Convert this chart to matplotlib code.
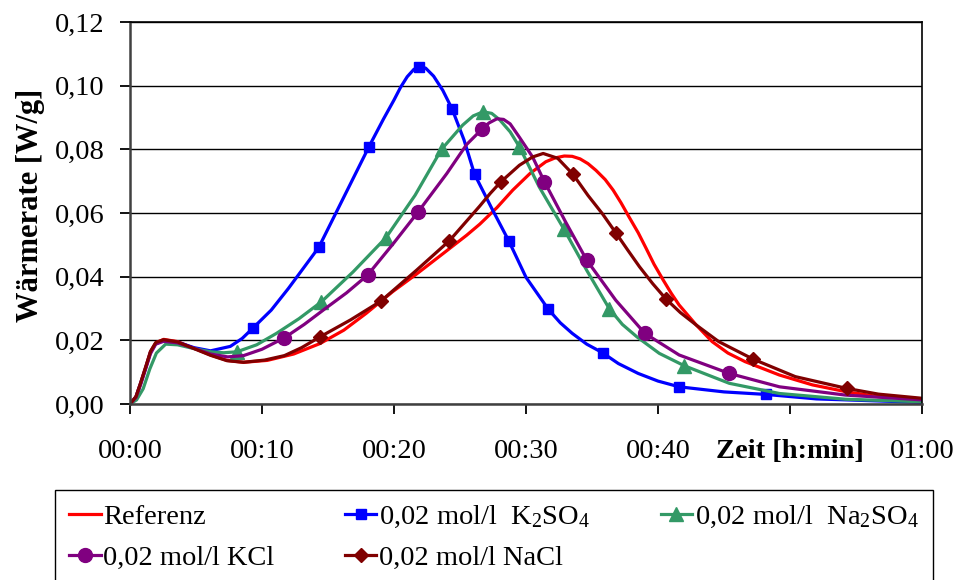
import numpy as np
import matplotlib.pyplot as plt

plt.rcParams['font.family'] = ['Liberation Serif', 'DejaVu Serif']
plt.rcParams['mathtext.fontset'] = 'custom'
plt.rcParams['mathtext.rm'] = 'Liberation Serif'

# time in minutes, heat rate in W/g
red_t = [0, 0.45, 0.8, 1.2, 1.55, 1.95, 2.55, 3.6, 4.85, 6.1, 7.35, 8.6, 10.4, 12.4, 14.4, 16.2,
         17.9, 19.9, 21.7, 23.7, 25.5, 26.5, 27.8, 29.0, 30.3, 31.5, 32.2, 32.9, 33.5, 34.1, 34.7,
         35.3, 36.0, 36.6, 37.2, 37.8, 38.5, 39.1, 39.7, 40.4, 41.0, 41.6, 42.9, 44.1, 45.3, 46.6,
         49.2, 51.7, 54.2, 56.7, 60.0]
red_v = [0, .0023, .0065, .0117, .0164, .0192, .0203, .0196, .0175, .0154, .0137, .0131, .0137,
         .0157, .0190, .0232, .0285, .0353, .0408, .0472, .0530, .0565, .0617, .0672, .0724, .0761,
         .0773, .0779, .0778, .0770, .0755, .0734, .0705, .0672, .0632, .0588, .0538, .0489, .0439,
         .0389, .0348, .0311, .0248, .0196, .0160, .0133, .0091, .0060, .0039, .0023, .0015]

k2so4_t = [0, 0.45, 0.8, 1.2, 1.55, 1.95, 2.55, 3.6, 4.85, 6.1, 7.6, 8.5, 9.3, 10.7, 12.0, 14.3,
           16.2, 18.1, 19.2, 20.0, 20.5, 21.0, 21.5, 21.9, 22.4, 23.0, 23.7, 24.4, 25.3, 26.1, 27.4,
           28.7, 30.0, 31.7, 32.6, 33.5, 34.6, 35.8, 37.0, 38.5, 40.0, 41.6, 45.0, 48.2, 52.0, 60.0]
k2so4_v = [0, .0022, .0064, .0115, .0162, .0190, .0199, .0194, .0177, .0167, .0181, .0206, .0238,
           .0295, .0363, .0492, .0650, .0808, .0895, .0955, .0995, .1028, .1051, .1060, .1055, .1030,
           .0985, .0927, .0830, .0722, .0615, .0512, .0398, .0297, .0255, .0222, .0188, .0161, .0127,
           .0096, .0072, .0054, .0038, .0030, .0016, .0005]
k2so4_mk = [12, 15, 17, 23, 27, 29, 31, 33, 37, 41, 43]

na2so4_t = [0, 0.5, 1.0, 1.5, 2.0, 2.7, 3.6, 4.85, 6.1, 7.1, 8.1, 9.6, 11.1, 12.8, 14.5, 16.9, 19.4,
            21.6, 23.6, 25.2, 26.0, 26.75, 27.4, 28.0, 28.8, 29.5, 31.0, 32.85, 34.6, 36.3, 37.3,
            38.4, 40.1, 42.0, 45.4, 49.2, 54.2, 60.0]
na2so4_v = [0, .0013, .0048, .0110, .0160, .0188, .0186, .0174, .0164, .0161, .0164, .0186, .0222,
            .0268, .0321, .0415, .0523, .0656, .0800, .0876, .0905, .0918, .0913, .0893, .0855,
            .0808, .0682, .0551, .0420, .0300, .0250, .0211, .0159, .0120, .0065, .0033, .0015, .0007]
na2so4_mk = [10, 14, 16, 18, 21, 25, 27, 29, 33]

kcl_t = [0, 0.45, 0.8, 1.2, 1.55, 1.95, 2.55, 3.6, 4.85, 6.1, 7.4, 8.6, 10.0, 11.7, 13.2, 14.8,
         16.4, 18.0, 19.95, 21.8, 24.0, 25.5, 26.7, 27.2, 27.8, 28.3, 28.8, 29.5, 30.5, 31.4, 33.0,
         34.6, 36.8, 39.0, 41.6, 45.4, 49.2, 54.2, 60.0]
kcl_v = [0, .0020, .0060, .0112, .0158, .0188, .0197, .0192, .0175, .0157, .0148, .0152, .0172,
         .0208, .0250, .0300, .0349, .0405, .0504, .0602, .0724, .0815, .0865, .0883, .0896, .0894,
         .0880, .0838, .0776, .0698, .0572, .0452, .0326, .0222, .0154, .0096, .0054, .0028, .0013]
kcl_mk = [13, 17, 19, 22, 29, 31, 33, 35]

nacl_t = [0, 0.45, 0.8, 1.2, 1.55, 1.95, 2.55, 3.6, 4.85, 6.1, 7.35, 8.6, 10.2, 11.7, 13.0, 14.4,
          16.7, 19.0, 21.7, 24.2, 26.5, 27.3, 28.1, 29.5, 30.5, 31.3, 32.4, 33.55, 34.7, 35.8, 36.8,
          37.7, 38.6, 39.6, 40.6, 41.7, 42.9, 44.6, 47.2, 50.4, 54.3, 56.7, 60.0]
nacl_v = [0, .0023, .0066, .0118, .0165, .0193, .0202, .0195, .0174, .0153, .0136, .0131, .0138,
          .0152, .0177, .0211, .0264, .0323, .0420, .0513, .0622, .0662, .0698, .0750, .0776, .0787,
          .0772, .0722, .0655, .0597, .0538, .0484, .0431, .0378, .0330, .0287, .0248, .0196, .0141,
          .0086, .0049, .0031, .0018]
nacl_mk = [15, 17, 19, 22, 27, 30, 34, 38, 40]

xticks = [0, 10, 20, 30, 40, 50, 60]
xlabels = ['00:00', '00:10', '00:20', '00:30', '00:40', 'Zeit [h:min]', '01:00']
yticks = [0.0, 0.02, 0.04, 0.06, 0.08, 0.10, 0.12]
ylabels = ['0,00', '0,02', '0,04', '0,06', '0,08', '0,10', '0,12']

fs = 20.5
fig = plt.figure(figsize=(9.59, 5.8), dpi=100)
ax = fig.add_axes([130 / 959, 1 - 404 / 580, 792 / 959, 382 / 580])

lw = 2.3
l_ref, = ax.plot(red_t, red_v, color='#FF0000', lw=lw, label='Referenz')
l_k2, = ax.plot(k2so4_t, k2so4_v, color='#0000FF', lw=lw, marker='s', ms=7.5,
                markevery=k2so4_mk, label=r'0,02 mol/l  $\mathregular{K_2SO_4}$')
l_na2, = ax.plot(na2so4_t, na2so4_v, color='#339966', lw=lw, marker='^', ms=9.5,
                 markevery=na2so4_mk, label=r'0,02 mol/l  $\mathregular{Na_2SO_4}$')
l_kcl, = ax.plot(kcl_t, kcl_v, color='#800080', lw=lw, marker='o', ms=10,
                 markevery=kcl_mk, label='0,02 mol/l KCl')
l_nacl, = ax.plot(nacl_t, nacl_v, color='#800000', lw=lw, marker='D', ms=7.5,
                  markevery=nacl_mk, label='0,02 mol/l NaCl')

ax.set_xlim(0, 60)
ax.set_ylim(0, 0.12)
ax.set_xticks(xticks)
ax.set_xticklabels(xlabels, fontsize=fs)
ax.get_xticklabels()[5].set_fontweight('bold')
ax.set_yticks(yticks)
ax.set_yticklabels(ylabels, fontsize=fs)
ax.tick_params(axis='x', direction='out', length=7, width=1.3, pad=18, colors='black')
ax.tick_params(axis='y', direction='out', length=7, width=1.3, pad=11, colors='black')

ax.yaxis.grid(True, color='black', lw=1)
ax.set_axisbelow(True)
for s in ['left', 'bottom']:
    ax.spines[s].set_color('#404040')
    ax.spines[s].set_linewidth(1.8)
for s in ['top', 'right']:
    ax.spines[s].set_color('black')
    ax.spines[s].set_linewidth(1.2)

ax.set_ylabel('Wärmerate [W/g]', fontsize=22, fontweight='bold')
ax.yaxis.set_label_coords(-0.107, 0.52)

# legend is row-major in the picture, matplotlib fills columns first
hands = [l_ref, l_kcl, l_k2, l_nacl, l_na2]
leg = fig.legend(handles=hands, labels=[h.get_label() for h in hands], ncol=3,
                 loc='upper left', bbox_to_anchor=(55 / 959, 0, 878 / 959, 1 - 490 / 580),
                 bbox_transform=fig.transFigure, mode='expand', borderaxespad=0,
                 fontsize=fs, handlelength=1.1, handletextpad=0.1, labelspacing=0.5,
                 borderpad=0.5, fancybox=False, framealpha=1, edgecolor='black')
leg.get_frame().set_linewidth(1.0)

plt.savefig('out.png', dpi=100)
